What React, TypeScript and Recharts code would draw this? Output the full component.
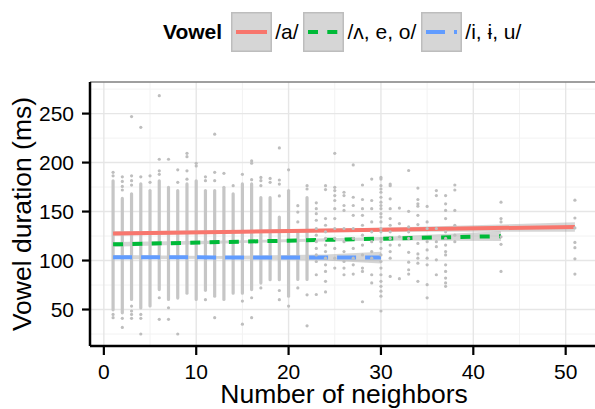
import { ComposedChart, XAxis, YAxis, CartesianGrid, Bar, Scatter, Area, Line, ReferenceLine } from 'recharts';

const FONT = '"Liberation Sans", Arial, Helvetica, sans-serif';
const DOT = '#bebebe';
const COLUMN = '#c6c6c6';

// columns of overlapping dots (dense core, from..to in ms)
const columnX = [1, 2, 3, 4, 5, 6, 7, 8, 9, 10, 11, 12, 13, 14, 15, 16, 17, 18, 19, 20, 21, 22];
const columnLow = [48, 45, 58.6, 50, 52, 68.7, 58.6, 60, 65, 58.6, 68, 62, 58.6, 65, 65, 68.7, 75.4, 78.8, 78.8, 62, 79, 79];
const columnHigh = [183, 165, 169.7, 180, 173, 183, 176.4, 173, 179.8, 183, 173, 173, 176.4, 169.7, 179.8, 179.8, 166, 166, 146, 173, 132, 166];

// single dots outside the dense cores
const looseDots: [number, number[]][] = [
  [1, [190, 186.5, 45, 41.7]],
  [2, [185.5, 180.8, 175.7, 172, 41, 31.7]],
  [3, [247, 186.5, 181.5, 177, 53.5, 48.5, 45, 41]],
  [4, [236, 185.5, 45, 41, 25]],
  [5, [186.5, 179.8]],
  [6, [268.3, 203.4, 191.6, 188, 62, 40]],
  [7, [203.4, 51.8, 40]],
  [8, [192.6, 179.8, 25]],
  [9, [209.4, 206, 191.6, 183]],
  [10, [199.3, 196.6]],
  [11, [185.5, 181.5, 60]],
  [12, [229, 190, 181.5, 41.7]],
  [13, [189]],
  [14, [176.4]],
  [15, [188, 58.6, 35]],
  [16, [201.7, 199.3, 182.5, 62, 41.7]],
  [17, [184.8, 181.5, 176.4, 72]],
  [18, [183.8, 179.8]],
  [19, [215, 182.2, 178, 166, 69.4, 60]],
  [20, [192.6, 53.5]],
  [21, [156, 149.5, 139.4, 72]],
  [22, [176.4, 173, 65, 33.3]],
  [23, [158.9, 152.9, 147.8, 141.1, 132.7, 125.9, 119.2, 112.4, 105.7, 99, 85.5, 65.3]],
  [24, [176.4, 172.4, 142.8, 136, 129.3, 122.6, 115.8, 109.1, 102.4, 95.6, 88.9, 78.8, 68]],
  [25, [209.4, 174.7, 171.4, 166.3, 161.3, 152.9, 142.8, 132.7, 122.6, 112.4, 102.4, 92.3]],
  [26, [169.7, 166.3, 156.2, 151.2, 132.7, 119.2, 109.1, 99, 92.3, 85.5]],
  [27, [197.6, 164.6, 156.2, 146.1, 132.7, 122.6, 112.4, 102.4, 95.6, 86.2]],
  [28, [177.1, 162.3, 152.9, 146.1, 136, 125.9, 115.8, 105.7, 92.3, 88.9, 57.9]],
  [29, [183.2, 161.3, 152.9, 139.4, 129.3, 119.2, 109.1, 102.4, 85.5, 77.1]],
  [30, [184.8, 183.2, 176.4, 173, 169.7, 164.6, 159.6, 156.2, 152.9, 147.8, 144.4, 139.4, 132.7, 129.3, 122.6, 119.2, 112.4, 105.7, 99, 92.3, 85.5, 78.8, 73.7, 68.7, 63.6, 48.5]],
  [31, [178.1, 176.4, 163, 152.9, 142.8, 136, 129.3, 122.6, 115.8, 109.1, 102.4, 83.8]],
  [32, [153.5, 137.7, 124.3, 115.8, 81.5]],
  [33, [191.9, 150.2, 134.3, 129.3, 122.6, 108.4, 98.3, 90.6, 86.2]],
  [34, [174, 162.3, 157.9, 155.5, 146.1, 136.7, 117.5, 106.7, 102.4, 97.3, 78.8]],
  [35, [155.2, 139.4, 132.7, 119.2, 110.8, 102.4, 95.6, 75.4, 61.9]],
  [36, [171.4, 166.3, 132.7, 119.2, 114.1, 100.7, 85.5]],
  [37, [166.3, 157.9, 151.2, 142.8, 129.3, 122.6, 115.8, 109.1, 105.7, 95.6, 88.9, 82.1, 77.1, 73.7]],
  [38, [177.1, 172, 151.2, 136, 125.9, 119.2]],
  [43, [159.6, 142.8, 139.4, 124.2, 116.5, 88.9]],
  [51, [161.6, 143.4, 133.3, 118.5, 113.1, 101.7, 86.2]],
];

// linear fits with confidence bands
const fitAX = [1, 15, 30, 51];
const fitAY = [127.6, 129.5, 131.5, 134.3];
const fitALo = [125.2, 128, 129.5, 129.5];
const fitAHi = [130, 131, 133.5, 139];

const fitEX = [1, 15, 30, 43];
const fitEY = [116.5, 119.3, 122.3, 124.9];
const fitELo = [114, 118, 120.5, 120];
const fitEHi = [119, 120.6, 124.1, 129.8];

const fitIX = [1, 12, 24, 30];
const fitIY = [103.4, 103.2, 103.1, 103];
const fitILo = [101.2, 101.8, 100, 97];
const fitIHi = [105.6, 104.6, 106.2, 109];

const vowelNames = ['/a/', '/ʌ, e, o/', '/i, ɨ, u/'];
const vowelColors = ['#F8766D', '#00BA38', '#619CFF'];
const vowelDashes = ['', '10 9.3', '19 9'];

const xTicks = [0, 10, 20, 30, 40, 50];
const yTicks = [50, 100, 150, 200, 250];
const xMinor = [5, 15, 25, 35, 45];
const yMinor = [25, 75, 125, 175, 225, 275];

const columnRows = columnX.map((x, i) => ({ x, range: [columnLow[i], columnHigh[i]] }));
const dotRows = looseDots.flatMap(([x, ys]) => ys.map((y) => ({ x, y })));
const makeFit = (xs: number[], ys: number[], lo: number[], hi: number[]) =>
  xs.map((x, i) => ({ x, fit: ys[i], band: [lo[i], hi[i]] }));
const fits = [
  makeFit(fitAX, fitAY, fitALo, fitAHi),
  makeFit(fitEX, fitEY, fitELo, fitEHi),
  makeFit(fitIX, fitIY, fitILo, fitIHi),
];

function LegendKey({ color, dash }: { color: string; dash: string }) {
  return (
    <svg width={41} height={40} style={{ display: 'block' }}>
      <rect x={0.75} y={0.75} width={39.5} height={38.5} fill="#d6d6d6" stroke="#bdbdbd" strokeWidth={1.5} />
      <line x1={5} x2={36} y1={20} y2={20} stroke={color} strokeWidth={4} strokeDasharray={dash || undefined} />
    </svg>
  );
}

export default function App() {
  const tickStyle = { fill: '#000', fontSize: 21, fontFamily: FONT };
  return (
    <div style={{ position: 'relative', width: 595, height: 409, overflow: 'hidden', background: '#fff', fontFamily: FONT }}>
      <style>{'body{margin:0}'}</style>
      <div style={{ position: 'absolute', left: 163, top: 12, height: 40, display: 'flex', alignItems: 'center', fontSize: 21, color: '#000', zIndex: 2, whiteSpace: 'nowrap' }}>
        <span style={{ fontWeight: 'bold', marginRight: 9 }}>Vowel</span>
        {vowelNames.map((name, i) => (
          <span key={name} style={{ display: 'flex', alignItems: 'center' }}>
            <LegendKey color={vowelColors[i]} dash={vowelDashes[i]} />
            <span style={{ marginLeft: 3, marginRight: 5 }}>{name}</span>
          </span>
        ))}
      </div>
      <ComposedChart width={610} height={409} data={columnRows} margin={{ top: 82, right: 12, bottom: 0, left: 0 }}>
        <CartesianGrid horizontalValues={yMinor} verticalValues={xMinor} stroke="#f2f2f2" strokeWidth={1} />
        <CartesianGrid horizontalValues={yTicks} verticalValues={xTicks} stroke="#e6e6e6" strokeWidth={1.4} />
        <XAxis
          dataKey="x"
          type="number"
          domain={[-1.5, 53.5]}
          ticks={xTicks}
          allowDataOverflow
          height={63}
          tick={tickStyle}
          tickSize={9}
          tickMargin={9}
          axisLine={{ stroke: '#000', strokeWidth: 2.5 }}
          tickLine={{ stroke: '#000', strokeWidth: 2.2 }}
          label={{
            content: ({ viewBox }: any) => (
              <text x={viewBox.x + viewBox.width / 2} y={viewBox.y + viewBox.height - 6} textAnchor="middle" fontSize={26.5} fontFamily={FONT} fill="#000">
                Number of neighbors
              </text>
            ),
          }}
        />
        <YAxis
          type="number"
          domain={[12.75, 282.25]}
          ticks={yTicks}
          allowDataOverflow
          width={90}
          tick={tickStyle}
          tickSize={8}
          tickMargin={8}
          axisLine={{ stroke: '#000', strokeWidth: 2.5 }}
          tickLine={{ stroke: '#000', strokeWidth: 2.2 }}
          label={{
            content: ({ viewBox }: any) => {
              const cx = viewBox.x + 31;
              const cy = viewBox.y + viewBox.height / 2;
              return (
                <text x={cx} y={cy} transform={`rotate(-90, ${cx}, ${cy})`} textAnchor="middle" fontSize={26.5} fontFamily={FONT} fill="#000">
                  Vowel duration (ms)
                </text>
              );
            },
          }}
        />
        <ReferenceLine y={282.25} stroke="#7f7f7f" strokeWidth={1.6} />
        <Bar dataKey="range" fill={COLUMN} barSize={3.2} radius={1.6} isAnimationActive={false} />
        <Scatter
          data={dotRows}
          dataKey="y"
          isAnimationActive={false}
          shape={(p: any) => <circle cx={p.cx} cy={p.cy} r={1.6} fill={DOT} />}
        />
        {fits.map((rows, i) => (
          <Area key={`band-${i}`} data={rows} dataKey="band" type="linear" stroke="none" fill="#999999" fillOpacity={0.4} isAnimationActive={false} />
        ))}
        {fits.map((rows, i) => (
          <Line
            key={`fit-${i}`}
            data={rows}
            dataKey="fit"
            type="linear"
            stroke={vowelColors[i]}
            strokeWidth={4}
            strokeDasharray={vowelDashes[i] || undefined}
            dot={false}
            activeDot={false}
            isAnimationActive={false}
          />
        ))}
      </ComposedChart>
    </div>
  );
}
